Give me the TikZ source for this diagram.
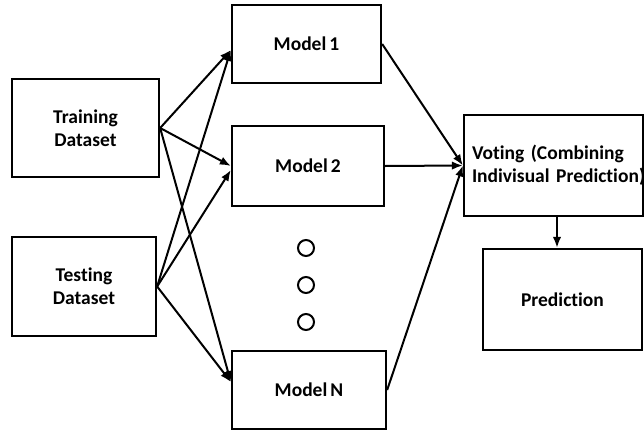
\documentclass[tikz,border=0pt]{standalone}
\usepackage{fontspec}
\setmainfont{Carlito}[Ligatures=NoCommon, WordSpace=0.7]
\usetikzlibrary{arrows.meta}

\tikzset{
  blk/.style={draw, line width=2.3pt, align=center,
    font=\fontsize{19.5}{23}\selectfont\bfseries},
  conn/.style={-{Latex[length=11pt,width=8.5pt]}, line width=2pt},
  dot/.style={circle, draw, line width=2pt, minimum size=16pt, inner sep=0pt}
}

\begin{document}
\begin{tikzpicture}[x=1pt,y=-1pt]
\useasboundingbox (0,0) rectangle (644,436);

% datasets
\node[blk, minimum width=147pt, minimum height=98pt] (train) at (85.5,128) {Training\\Dataset};
\node[blk, minimum width=144pt, minimum height=99pt] (test) at (84,286.5) {Testing\\Dataset};

% models
\node[blk, minimum width=149pt, minimum height=78pt] (m1) at (306.5,44) {Model 1};
\node[blk, minimum width=152pt, minimum height=80pt] (m2) at (308,166) {Model 2};
\node[blk, minimum width=154pt, minimum height=78pt] (mN) at (309,390) {Model N};

\node[dot] (d1) at (306,248) {};
\node[dot] (d2) at (306,285) {};
\node[dot] (d3) at (306,322) {};

% voting and result
\node[blk, align=left, text width=163pt, inner xsep=8pt, minimum height=101pt] (vote) at (553.5,165.5)
  {Voting (Combining\\\mbox{Indivisual Prediction)}};
\node[blk, minimum width=159pt, minimum height=101pt] (pred) at (562.5,299.5) {Prediction};

% dataset -> models
\draw[conn] (train.east) -- ([yshift=-6pt]m1.west);
\draw[conn] (train.east) -- (m2.west);
\draw[conn] (train.east) -- ([yshift=8pt]mN.west);
\draw[conn] (test.east) -- ([yshift=-6pt]m1.west);
\draw[conn] (test.east) -- ([yshift=-4pt]m2.west);
\draw[conn] (test.east) -- ([yshift=8pt]mN.west);

% models -> voting
\draw[conn] (m1.east) -- (vote.west);
\draw[conn] (m2.east) -- (vote.west);
\draw[conn] (mN.east) -- (vote.west);

\draw[conn] ([xshift=3.5pt]vote.south) -- ([xshift=3.5pt]vote.south |- pred.north);
\end{tikzpicture}
\end{document}
